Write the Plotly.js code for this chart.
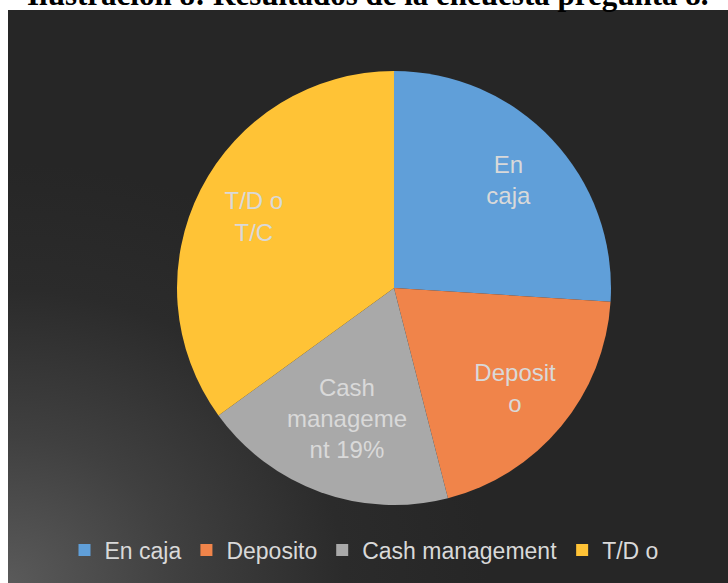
<!DOCTYPE html>
<html>
<head>
<meta charset="utf-8">
<script src="https://cdn.plot.ly/plotly-3.0.1.min.js"></script>
<style>
  html, body { margin:0; padding:0; background:#ffffff; }
  #bg { position:absolute; left:8px; top:10px; width:720px; height:573px;
        background: radial-gradient(ellipse 480px 420px at 0% 100%, #5a5a5a 0%, #404040 35%, #2b2b2b 70%, #262626 100%); }
  #chart { position:absolute; left:0; top:0; width:728px; height:583px; }
</style>
</head>
<body>
<div id="bg"></div>
<div id="chart"></div>
<script>
const categories = ["En caja", "Deposito", "Cash management", "T/D o"];
const values = [26, 20, 19, 35];
const sliceLabels = ["En<br>caja", "Deposit<br>o", "Cash<br>manageme<br>nt 19%", "T/D o<br>T/C"];
const colors = ["#609fd9", "#f0844a", "#a9a9a9", "#ffc336"];
const titleText = "Ilustración 8: Resultados de la encuesta pregunta 8.";

const pieDomain = { x: [0.2431, 0.8393], y: [0.1338, 0.8782] };

const slices = {
  type: "pie",
  labels: categories,
  values: values,
  textinfo: "none",
  sort: false,
  direction: "clockwise",
  rotation: 0,
  marker: { colors: colors, line: { width: 0 } },
  hoverinfo: "none",
  domain: pieDomain
};

// transparent overlay pies that only carry the slice texts
function labelLayer(hole, keep) {
  return {
    type: "pie",
    labels: categories,
    values: values,
    text: sliceLabels.map((t, i) => keep.includes(i) ? t : ""),
    textinfo: "text",
    textposition: "inside",
    insidetextorientation: "horizontal",
    sort: false,
    direction: "clockwise",
    rotation: 0,
    hole: hole,
    showlegend: false,
    marker: { colors: categories.map(() => "rgba(0,0,0,0)"), line: { width: 0 } },
    textfont: { family: "Liberation Sans, Arial, sans-serif", size: 24, color: "#d9d9d9" },
    hoverinfo: "none",
    domain: pieDomain
  };
}

const layout = {
  width: 728, height: 583,
  margin: { l: 0, r: 0, t: 0, b: 0 },
  paper_bgcolor: "rgba(0,0,0,0)",
  plot_bgcolor: "rgba(0,0,0,0)",
  showlegend: true,
  legend: {
    orientation: "h", x: 0.5, xanchor: "center", y: 0.0566, yanchor: "middle",
    font: { family: "Liberation Sans, Arial, sans-serif", size: 23, color: "#d9d9d9" },
    bgcolor: "rgba(0,0,0,0)", traceorder: "normal"
  },
  annotations: [{
    text: "<b>" + titleText + "</b>",
    xref: "paper", yref: "paper", x: 25/728, y: 1 + 6/583,
    xanchor: "left", yanchor: "middle", showarrow: false,
    font: { family: "Liberation Serif, Times New Roman, serif", size: 31, color: "#000000" }
  }]
};

Plotly.newPlot("chart", [slices, labelLayer(0.45, [0, 1, 3]), labelLayer(0.28, [2])], layout,
  { displayModeBar: false, staticPlot: true });
</script>
</body>
</html>
